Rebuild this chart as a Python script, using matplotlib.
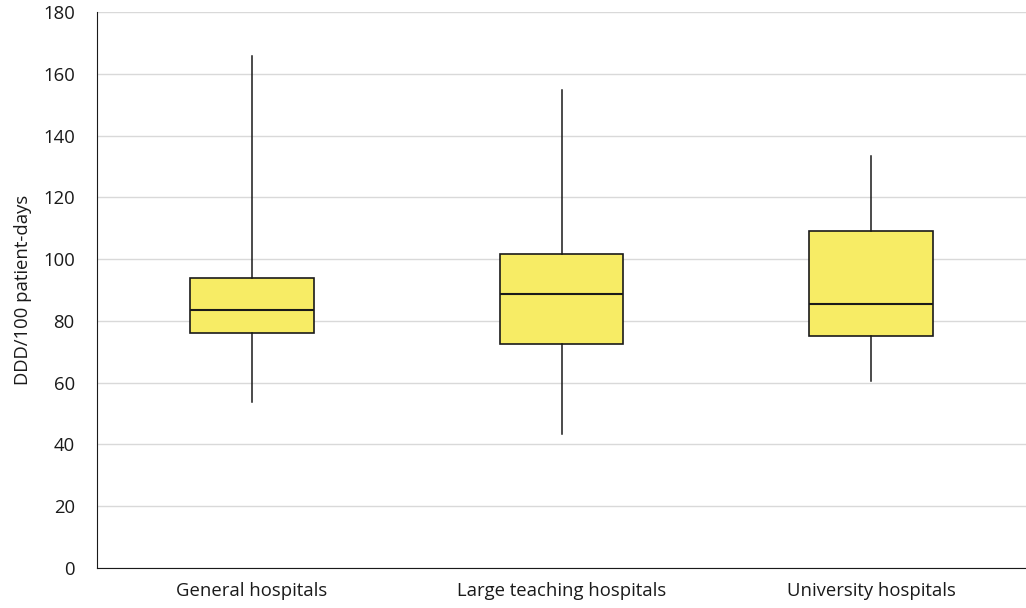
import matplotlib
matplotlib.use('Agg')
import matplotlib.pyplot as plt

# values (DDD/100 patient-days)
categories = ['General hospitals', 'Large teaching hospitals', 'University hospitals']
whisk_low = [53.7, 43.4, 60.5]
q1 = [76.1, 72.5, 75.1]
medians = [83.5, 88.7, 85.5]
q3 = [93.9, 101.6, 109.1]
whisk_high = [165.7, 154.7, 133.4]
yticks = [0, 20, 40, 60, 80, 100, 120, 140, 160, 180]

plt.rcParams['font.family'] = ['Open Sans', 'DejaVu Sans']

stats = []
for i in range(len(categories)):
    stats.append({'label': categories[i], 'whislo': whisk_low[i], 'q1': q1[i],
                  'med': medians[i], 'q3': q3[i], 'whishi': whisk_high[i], 'fliers': []})

fig = plt.figure(figsize=(10.26, 6.08), dpi=100)
ax = fig.add_axes([97/1026, 1 - 568/608, 1 - 97/1026, (568 - 12)/608])

ax.bxp(stats, positions=[1, 2, 3], widths=0.40, patch_artist=True, showcaps=False,
       boxprops=dict(facecolor='#F7EC65', edgecolor='#1a1a1a', linewidth=1.2),
       medianprops=dict(color='#1a1a1a', linewidth=1.5),
       whiskerprops=dict(color='#1a1a1a', linewidth=1.1), zorder=3)

ax.set_xlim(0.5, 3.5)
ax.set_ylim(0, 180)
ax.set_yticks(yticks)
ax.set_xticks([1, 2, 3])
ax.set_xticklabels(categories, fontsize=13.3, color='#1a1a1a')
ax.tick_params(axis='y', labelsize=13.3, length=0, pad=16, labelcolor='#1a1a1a')
ax.tick_params(axis='x', length=0, pad=10)
ax.grid(axis='y', color='#d9d9d9', linewidth=1)
ax.set_axisbelow(True)
for s in ['top', 'right']:
    ax.spines[s].set_visible(False)
ax.spines['left'].set_color('#1a1a1a')
ax.spines['bottom'].set_color('#1a1a1a')
ax.set_ylabel('DDD/100 patient-days', fontsize=13.3, color='#1a1a1a', labelpad=8)

fig.savefig('out.png', dpi=100)
